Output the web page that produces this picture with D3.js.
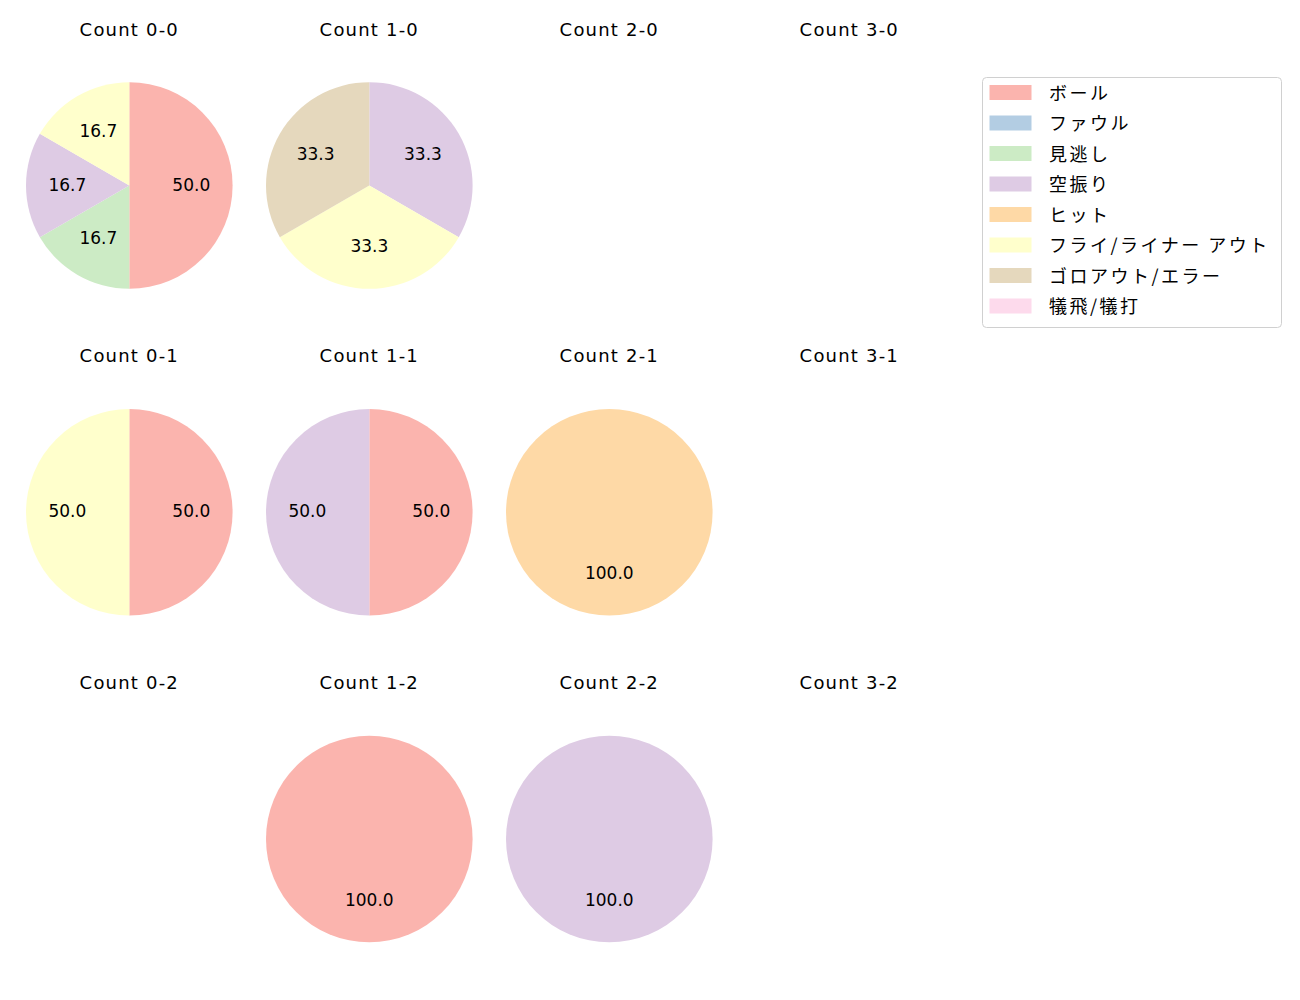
<!DOCTYPE html>
<html>
<head>
<meta charset="utf-8">
<script src="https://cdn.jsdelivr.net/npm/d3@7"></script>
<style>
  body { margin: 0; background: #fff; }
  text { fill: #000; }
  .latin { font-family: "DejaVu Sans", sans-serif; }
  .jp { font-family: "Noto Sans CJK JP", sans-serif; }
</style>
</head>
<body>
<svg id="chart" width="1300" height="1000"></svg>
<script>
// Result categories (legend order) and Pastel1 colours
const categories = ["ボール", "ファウル", "見逃し", "空振り", "ヒット", "フライ/ライナー アウト", "ゴロアウト/エラー", "犠飛/犠打"];
const colors = ["#fbb4ae", "#b3cde3", "#ccebc5", "#decbe4", "#fed9a6", "#ffffcc", "#e5d8bd", "#fddaec"];

// Panel grid: columns = balls, rows = strikes
const balls = [0, 1, 2, 3];
const strikes = [0, 1, 2];

// Pitch outcome counts per count, one value per category
const counts = {
    "0-0": [3, 0, 1, 1, 0, 1, 0, 0],
    "1-0": [0, 0, 0, 1, 0, 1, 1, 0],
    "2-0": [0, 0, 0, 0, 0, 0, 0, 0],
    "3-0": [0, 0, 0, 0, 0, 0, 0, 0],
    "0-1": [1, 0, 0, 0, 0, 1, 0, 0],
    "1-1": [1, 0, 0, 1, 0, 0, 0, 0],
    "2-1": [0, 0, 0, 0, 1, 0, 0, 0],
    "3-1": [0, 0, 0, 0, 0, 0, 0, 0],
    "0-2": [0, 0, 0, 0, 0, 0, 0, 0],
    "1-2": [1, 0, 0, 0, 0, 0, 0, 0],
    "2-2": [0, 0, 0, 1, 0, 0, 0, 0],
    "3-2": [0, 0, 0, 0, 0, 0, 0, 0]
};

const svg = d3.select("#chart");
const radius = 103.3;
const colX = d3.scalePoint().domain(balls).range([129.3, 849.3]);
const rowY = d3.scalePoint().domain(strikes).range([185.5, 839]);
const color = d3.scaleOrdinal().domain(categories).range(colors);

const pie = d3.pie()
    .sort(null)
    .value(function(d) { return d.value; });

const arc = d3.arc().innerRadius(0).outerRadius(radius);
const labelArc = d3.arc().innerRadius(radius * 0.6).outerRadius(radius * 0.6);
const fmt = d3.format(".1f");

strikes.forEach(function(s) {
    balls.forEach(function(b) {
        const key = b + "-" + s;
        const g = svg.append("g")
            .attr("transform", "translate(" + colX(b) + "," + rowY(s) + ")");

        g.append("text")
            .attr("class", "latin")
            .attr("y", -150)
            .attr("text-anchor", "middle")
            .style("font-size", "18px")
            .style("letter-spacing", "1.2px")
            .text("Count " + key);

        const vals = counts[key];
        const total = d3.sum(vals);
        if (total === 0) return;

        const data = categories
            .map(function(c, i) { return { label: c, value: vals[i] }; })
            .filter(function(d) { return d.value > 0; });

        const arcs = pie(data);

        g.selectAll("path.slice")
            .data(arcs)
            .enter().append("path")
            .attr("class", "slice")
            .attr("d", arc)
            .style("fill", function(d) { return color(d.data.label); });

        g.selectAll("text.pct")
            .data(arcs)
            .enter().append("text")
            .attr("class", "pct latin")
            .attr("transform", function(d) { return "translate(" + labelArc.centroid(d) + ")"; })
            .attr("dy", 5)
            .attr("text-anchor", "middle")
            .style("font-size", "17px")
            .text(function(d) { return fmt(d.data.value / total * 100); });
    });
});

/* ------- LEGEND ------- */
const legend = svg.append("g").attr("transform", "translate(982,77)");
legend.append("rect")
    .attr("x", 0.5).attr("y", 0.5)
    .attr("width", 299).attr("height", 250)
    .attr("rx", 4)
    .style("fill", "#fff")
    .style("stroke", "#d0d0d0")
    .style("stroke-width", 1);

const rowScale = d3.scalePoint().domain(categories).range([15.5, 229]);
const item = legend.selectAll("g.item")
    .data(categories)
    .enter().append("g")
    .attr("class", "item")
    .attr("transform", function(d) { return "translate(0," + rowScale(d) + ")"; });

item.append("rect")
    .attr("x", 7.5).attr("y", -7.5)
    .attr("width", 42).attr("height", 15)
    .style("fill", function(d) { return color(d); });

item.append("text")
    .attr("class", "jp")
    .attr("x", 67)
    .attr("dy", -1)
    .attr("dominant-baseline", "central")
    .style("font-size", "18px")
    .style("letter-spacing", "2.5px")
    .text(function(d) { return d; });
</script>
</body>
</html>
